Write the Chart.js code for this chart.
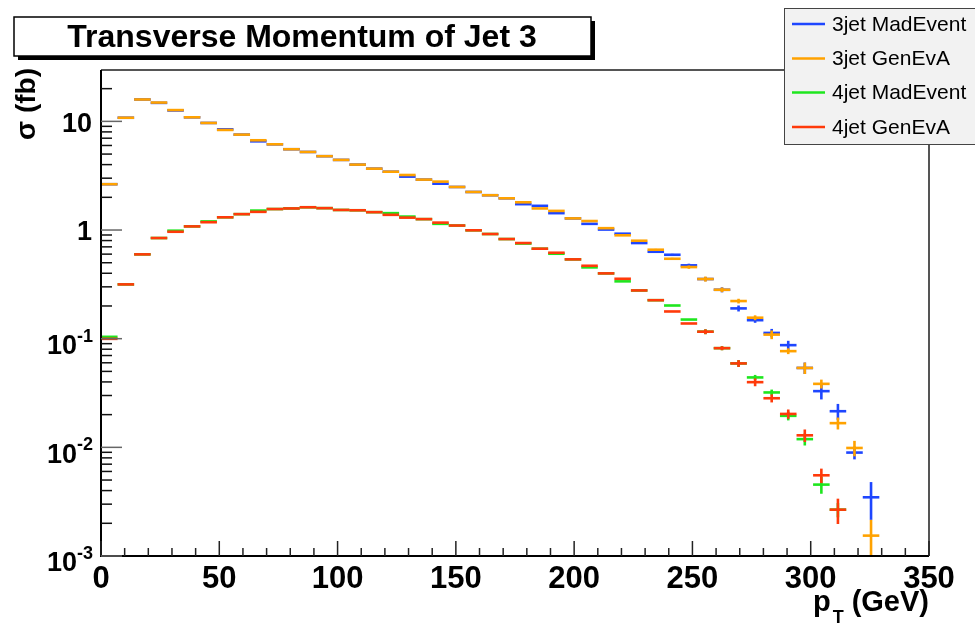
<!DOCTYPE html>
<html>
<head>
<meta charset="utf-8">
<title>Transverse Momentum of Jet 3</title>
<script src="https://cdn.jsdelivr.net/npm/chart.js@4.4.0/dist/chart.umd.min.js"></script>
<style>
  html, body { margin: 0; padding: 0; background: #fff; }
  #wrap { width: 975px; height: 627px; position: relative; }
</style>
</head>
<body>
<div id="wrap"><canvas id="ptChart"></canvas></div>
<script>
// pT bin centres (GeV), 7 GeV wide bins
const binWidth = 7;
const ptBins = [3.5, 10.5, 17.5, 24.5, 31.5, 38.5, 45.5, 52.5, 59.5, 66.5,
  73.5, 80.5, 87.5, 94.5, 101.5, 108.5, 115.5, 122.5, 129.5, 136.5,
  143.5, 150.5, 157.5, 164.5, 171.5, 178.5, 185.5, 192.5, 199.5, 206.5,
  213.5, 220.5, 227.5, 234.5, 241.5, 248.5, 255.5, 262.5, 269.5, 276.5,
  283.5, 290.5, 297.5, 304.5, 311.5, 318.5, 325.5];

// cross sections per bin (fb)
const madEvent3 = [2.64, 10.8, 15.9, 14.8, 12.6, 10.9, 9.67, 8.45, 7.55, 6.55,
  6.15, 5.54, 5.23, 4.78, 4.42, 4.00, 3.67, 3.44, 3.10, 2.91,
  2.67, 2.49, 2.24, 2.09, 1.96, 1.73, 1.67, 1.43, 1.28, 1.14,
  1.01, 0.925, 0.759, 0.631, 0.592, 0.473, 0.354, 0.282, 0.190, 0.148,
  0.113, 0.0872, 0.0538, 0.0329, 0.0215, 0.00895, 0.00347];
const genEvA3 = [2.64, 10.8, 15.9, 14.9, 12.7, 10.9, 9.67, 8.34, 7.55, 6.70,
  6.15, 5.54, 5.23, 4.78, 4.42, 4.00, 3.67, 3.44, 3.21, 2.91,
  2.79, 2.49, 2.24, 2.09, 1.96, 1.80, 1.58, 1.50, 1.28, 1.21,
  1.04, 0.894, 0.797, 0.659, 0.544, 0.456, 0.354, 0.282, 0.222, 0.156,
  0.109, 0.0768, 0.0538, 0.0384, 0.0167, 0.00987, 0.00154];
const madEvent4 = [0.104, 0.316, 0.597, 0.844, 0.986, 1.08, 1.20, 1.31, 1.40, 1.51,
  1.56, 1.58, 1.62, 1.59, 1.53, 1.52, 1.46, 1.43, 1.33, 1.26,
  1.14, 1.10, 0.994, 0.919, 0.826, 0.751, 0.673, 0.605, 0.537, 0.453,
  0.399, 0.337, 0.278, 0.226, 0.202, 0.150, 0.116, 0.0818, 0.0592, 0.0440,
  0.0320, 0.0195, 0.0119, 0.00454, 0.00267, null, null];
const genEvA4 = [0.0997, 0.316, 0.597, 0.844, 0.964, 1.08, 1.18, 1.31, 1.40, 1.47,
  1.56, 1.58, 1.62, 1.59, 1.53, 1.52, 1.46, 1.38, 1.30, 1.26,
  1.17, 1.10, 0.994, 0.919, 0.826, 0.759, 0.673, 0.618, 0.537, 0.469,
  0.399, 0.356, 0.278, 0.226, 0.178, 0.138, 0.116, 0.0818, 0.0592, 0.0398,
  0.0283, 0.0203, 0.0129, 0.00553, 0.00267, null, null];

// statistical errors (fb), only the tail ones are big enough to show
const madEvent3Err = [0, 0, 0, 0, 0, 0, 0, 0, 0, 0,
  0, 0, 0, 0, 0, 0, 0, 0, 0, 0,
  0, 0, 0, 0, 0, 0, 0, 0, 0, 0,
  0, 0, 0, 0.012, 0.012, 0.017, 0.016, 0.015, 0.012, 0.008,
  0.010, 0.0084, 0.0065, 0.0053, 0.0036, 0.0012, 0.00132];
const genEvA3Err = [0, 0, 0, 0, 0, 0, 0, 0, 0, 0,
  0, 0, 0, 0, 0, 0, 0, 0, 0, 0,
  0, 0, 0, 0, 0, 0, 0, 0, 0, 0,
  0, 0, 0, 0.012, 0.011, 0.016, 0.019, 0.014, 0.011, 0.008,
  0.010, 0.0047, 0.0065, 0.0036, 0.0021, 0.0016, 0.00061];
const madEvent4Err = [0, 0, 0, 0, 0, 0, 0, 0, 0, 0,
  0, 0, 0, 0, 0, 0, 0, 0, 0, 0,
  0, 0, 0, 0, 0, 0, 0, 0, 0, 0,
  0, 0, 0, 0, 0, 0, 0.006, 0.0035, 0.0043, 0.0024,
  0.002, 0.0018, 0.0015, 0.0008, 0.0004, 0, 0];
const genEvA4Err = [0, 0, 0, 0, 0, 0, 0, 0, 0, 0,
  0, 0, 0, 0, 0, 0, 0, 0, 0, 0,
  0, 0, 0, 0, 0, 0, 0, 0, 0, 0,
  0, 0, 0, 0, 0, 0, 0.006, 0.0035, 0.0043, 0.0033,
  0.0024, 0.002, 0.0017, 0.00084, 0.0007, 0, 0];

const seriesNames = ['3jet MadEvent', '3jet GenEvA', '4jet MadEvent', '4jet GenEvA'];
const seriesColors = ['#1e46ff', '#ffa200', '#1ee61e', '#ff3a0a'];

// y axis decade labels: mantissa text and exponent (null = no superscript)
const yTickValues = [10, 1, 0.1, 0.01, 0.001];
const yTickExps = [null, null, '-1', '-2', '-3'];

const FONT = "'Liberation Sans', Arial, Helvetica, sans-serif";
Chart.defaults.font.family = FONT;

function toPoints(values, errs) {
  const pts = [];
  ptBins.forEach((x, i) => {
    if (values[i] != null) pts.push({ x, y: values[i], err: errs[i] });
  });
  return pts;
}

// histogram style markers: bin-wide horizontal bar plus vertical error bar
const histMarks = {
  id: 'histMarks',
  afterDatasetsDraw(chart) {
    const { ctx, chartArea: area } = chart;
    const xs = chart.scales.x;
    const ys = chart.scales.y;
    ctx.save();
    ctx.beginPath();
    ctx.rect(area.left, area.top, area.right - area.left, area.bottom - area.top);
    ctx.clip();
    chart.data.datasets.forEach((ds) => {
      ctx.strokeStyle = ds.borderColor;
      ctx.lineWidth = 2.6;
      ds.data.forEach((p) => {
        const py = ys.getPixelForValue(p.y);
        const x0 = xs.getPixelForValue(p.x - binWidth / 2);
        const x1 = xs.getPixelForValue(p.x + binWidth / 2);
        ctx.beginPath();
        ctx.moveTo(x0, py);
        ctx.lineTo(x1, py);
        ctx.stroke();
        if (p.err > 0) {
          const xc = xs.getPixelForValue(p.x);
          const top = ys.getPixelForValue(p.y + p.err);
          const bot = p.y - p.err > 0 ? ys.getPixelForValue(p.y - p.err) : area.bottom + 10;
          ctx.beginPath();
          ctx.moveTo(xc, top);
          ctx.lineTo(xc, bot);
          ctx.stroke();
        }
      });
    });
    ctx.restore();
  },
  afterDraw(chart) {
    const { ctx, chartArea: area } = chart;
    const xs = chart.scales.x;
    const ys = chart.scales.y;
    ctx.save();

    // frame
    ctx.lineWidth = 2;
    ctx.strokeStyle = '#555';
    ctx.beginPath();
    ctx.moveTo(area.left, area.top);
    ctx.lineTo(area.right, area.top);
    ctx.lineTo(area.right, area.bottom);
    ctx.stroke();
    ctx.strokeStyle = '#000';
    ctx.beginPath();
    ctx.moveTo(area.left, area.top);
    ctx.lineTo(area.left, area.bottom);
    ctx.lineTo(area.right, area.bottom);
    ctx.stroke();

    // x ticks, pointing inward
    ctx.lineWidth = 1.5;
    ctx.strokeStyle = '#222';
    for (let v = 0; v <= 350; v += 10) {
      const px = xs.getPixelForValue(v);
      const len = v % 50 === 0 ? 15 : 8;
      ctx.beginPath();
      ctx.moveTo(px, area.bottom);
      ctx.lineTo(px, area.bottom - len);
      ctx.stroke();
    }
    // y ticks, decades long, 2..9 short
    for (let e = -3; e <= 1; e++) {
      for (let m = 1; m <= 9; m++) {
        const v = m * Math.pow(10, e);
        if (v < ys.min || v > ys.max) continue;
        const py = ys.getPixelForValue(v);
        const len = m === 1 ? 21 : 11;
        ctx.strokeStyle = m === 1 ? '#666' : '#111';
        ctx.beginPath();
        ctx.moveTo(area.left, py);
        ctx.lineTo(area.left + len, py);
        ctx.stroke();
      }
    }

    // y tick labels with superscript exponents
    ctx.fillStyle = '#000';
    ctx.textAlign = 'right';
    ctx.textBaseline = 'middle';
    yTickValues.forEach((v, i) => {
      const py = ys.getPixelForValue(v);
      const exp = yTickExps[i];
      if (exp == null) {
        ctx.font = 'bold 27px ' + FONT;
        ctx.fillText(String(v), 92, py + 3);
      } else {
        ctx.font = 'bold 18px ' + FONT;
        const sw = ctx.measureText(exp).width;
        ctx.fillText(exp, 93, py - 2);
        ctx.font = 'bold 27px ' + FONT;
        ctx.fillText('10', 93 - sw, py + 8);
      }
    });

    // x axis title: p_T (GeV)
    ctx.textBaseline = 'alphabetic';
    ctx.textAlign = 'right';
    ctx.font = 'bold 29px ' + FONT;
    ctx.fillText('(GeV)', area.right, 611);
    let xr = area.right - ctx.measureText('(GeV)').width - 8;
    ctx.font = 'bold 18px ' + FONT;
    ctx.fillText('T', xr, 623);
    xr -= ctx.measureText('T').width + 2;
    ctx.font = 'bold 29px ' + FONT;
    ctx.fillText('p', xr, 611);

    // y axis title
    ctx.save();
    ctx.translate(35, 68);
    ctx.rotate(-Math.PI / 2);
    ctx.textAlign = 'right';
    ctx.font = 'bold 28px ' + FONT;
    ctx.fillText('\u03c3 (fb)', 0, 0);
    ctx.restore();

    // title box with drop shadow
    ctx.fillStyle = '#000';
    ctx.fillRect(18, 21, 577, 39);
    ctx.fillStyle = '#fff';
    ctx.fillRect(14, 17, 577, 39);
    ctx.lineWidth = 1.5;
    ctx.strokeStyle = '#000';
    ctx.strokeRect(14, 17, 577, 39);
    ctx.fillStyle = '#000';
    ctx.textAlign = 'center';
    ctx.font = 'bold 32px ' + FONT;
    ctx.fillText('Transverse Momentum of Jet 3', 302, 47);

    // legend
    ctx.fillStyle = '#f2f2f2';
    ctx.fillRect(784, 8, 200, 136);
    ctx.lineWidth = 1;
    ctx.strokeStyle = '#444';
    ctx.strokeRect(784.5, 8.5, 200, 136);
    ctx.textAlign = 'left';
    ctx.textBaseline = 'middle';
    ctx.font = '21px ' + FONT;
    const rowY = [24, 58.5, 92.5, 127];
    seriesNames.forEach((name, i) => {
      ctx.strokeStyle = seriesColors[i];
      ctx.lineWidth = 2.5;
      ctx.beginPath();
      ctx.moveTo(792, rowY[i]);
      ctx.lineTo(825, rowY[i]);
      ctx.stroke();
      ctx.fillStyle = '#000';
      ctx.fillText(name, 832, rowY[i] + 1);
    });

    ctx.restore();
  },
};

const ctx = document.getElementById('ptChart').getContext('2d');
const ptChart = new Chart(ctx, {
  type: 'scatter',
  data: {
    datasets: [
      { label: seriesNames[0], data: toPoints(madEvent3, madEvent3Err), borderColor: seriesColors[0] },
      { label: seriesNames[1], data: toPoints(genEvA3, genEvA3Err), borderColor: seriesColors[1] },
      { label: seriesNames[2], data: toPoints(madEvent4, madEvent4Err), borderColor: seriesColors[2] },
      { label: seriesNames[3], data: toPoints(genEvA4, genEvA4Err), borderColor: seriesColors[3] },
    ],
  },
  options: {
    responsive: true,
    maintainAspectRatio: false,
    animation: false,
    layout: { padding: { top: 70, right: 46, bottom: 0, left: 0 } },
    elements: { point: { radius: 0, hoverRadius: 0 } },
    plugins: {
      legend: { display: false },
      tooltip: { enabled: false },
    },
    scales: {
      x: {
        type: 'linear',
        min: 0,
        max: 350,
        grid: { display: false },
        border: { display: false },
        ticks: {
          stepSize: 50,
          autoSkip: false,
          maxRotation: 0,
          padding: -3,
          color: '#000',
          font: { size: 31, weight: 'bold' },
        },
        afterFit(scale) { scale.height = 71; },
      },
      y: {
        type: 'logarithmic',
        min: 0.001,
        max: 29.7,
        grid: { display: false },
        border: { display: false },
        ticks: { display: false },
        afterFit(scale) { scale.width = 101; },
      },
    },
  },
  plugins: [histMarks],
});
</script>
</body>
</html>
